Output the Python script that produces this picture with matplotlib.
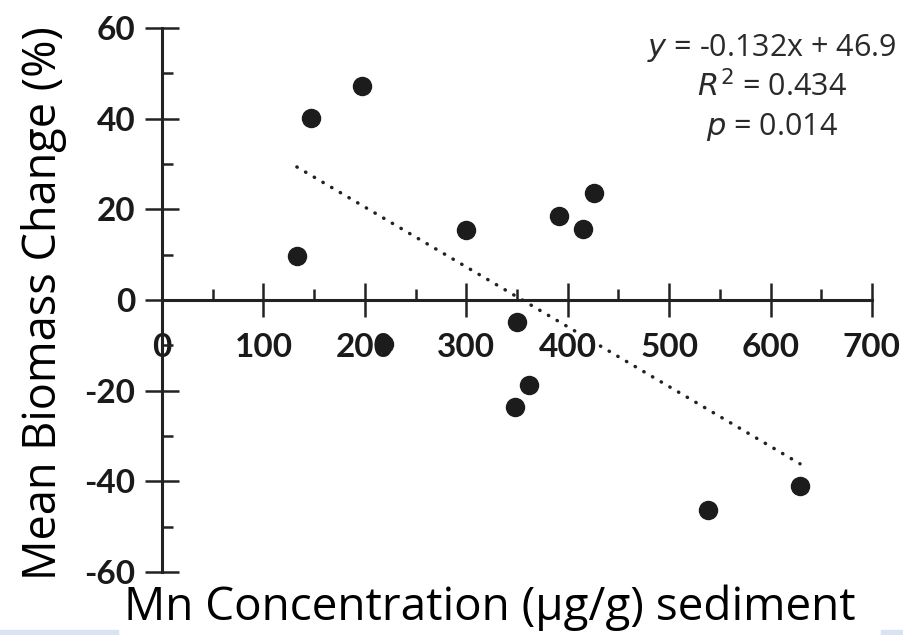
import matplotlib.pyplot as plt
from matplotlib.patches import Rectangle
from matplotlib.ticker import MultipleLocator

# Data.
mn_conc = [133, 147, 197, 219, 300, 350, 348, 362, 391, 415, 426, 538, 629]
biomass = [9.7, 40.2, 47.3, -9.7, 15.4, -4.8, -23.5, -18.7, 18.5, 15.6, 23.7, -46.4, -41.1]
slope, intercept = -0.132, 46.9
fit_x = [133, 629]
fit_y = [slope * x + intercept for x in fit_x]

xticks = [0, 100, 200, 300, 400, 500, 600, 700]
yticks = [-60, -40, -20, 0, 20, 40, 60]

plt.rcParams['font.family'] = ['Lato', 'DejaVu Sans']
plt.rcParams['axes.unicode_minus'] = False

fig = plt.figure(figsize=(9.04, 6.35), dpi=100)
ax = fig.add_axes([0.1792, 0.0992, 0.7854, 0.8567])

ax.plot(fit_x, fit_y, ls=(0, (0.1, 2.8)), lw=2.5, c='#222222', dash_capstyle='round')
ax.plot(mn_conc, biomass, 'o', ms=13, c='#1c1c1c', zorder=3)

ax.set_xlim(0, 700)
ax.set_ylim(-60, 60)

for side in ['top', 'right']:
    ax.spines[side].set_visible(False)
ax.spines['bottom'].set_position(('data', 0))
ax.spines['left'].set_position(('data', 0))
for side in ['bottom', 'left']:
    ax.spines[side].set_linewidth(2.2)
    ax.spines[side].set_color('#222222')

ax.set_xticks(xticks)
ax.set_yticks(yticks)
ax.xaxis.set_minor_locator(MultipleLocator(50))
ax.yaxis.set_minor_locator(MultipleLocator(10))
ax.tick_params(axis='x', which='major', direction='inout', length=24, width=1.8,
               color='#222222', labelsize=24, pad=12)
ax.tick_params(axis='y', which='major', direction='inout', length=24, width=1.8,
               color='#222222', labelsize=24, pad=7)
ax.tick_params(axis='x', which='minor', direction='in', length=8, width=1.8, color='#222222')
ax.tick_params(axis='y', which='minor', direction='in', length=8, width=1.8, color='#222222')
for lab in ax.get_xticklabels() + ax.get_yticklabels():
    lab.set_fontweight('bold')
    lab.set_color('#1a1a1a')

fig.text(0.049, 0.522, 'Mean Biomass Change (%)', rotation=90, ha='center', va='center',
         fontsize=32.5, family=['Open Sans', 'DejaVu Sans'])
fig.text(0.542, 0.043, 'Mn Concentration (\u00b5g/g) sediment', ha='center', va='center',
         fontsize=33, family=['Open Sans', 'DejaVu Sans'])

stats = [r'$\it{y}$ = -0.132x + 46.9', r'$\it{R}^2$ = 0.434', r'$\it{p}$ = 0.014']
for i, s in enumerate(stats):
    fig.text(0.854, 0.924 - i * 0.062, s, ha='center', va='center', fontsize=22,
             color='#2a2a2a', family=['Open Sans', 'DejaVu Sans'])

# Light blue slide strips along the bottom edge.
fig.patches.append(Rectangle((0, 0), 0.131, 0.008, transform=fig.transFigure,
                             color='#dae3f3', zorder=0))
fig.patches.append(Rectangle((0.975, 0), 0.025, 0.008, transform=fig.transFigure,
                             color='#dae3f3', zorder=0))

fig.savefig('out.png', dpi=100)
plt.close()
